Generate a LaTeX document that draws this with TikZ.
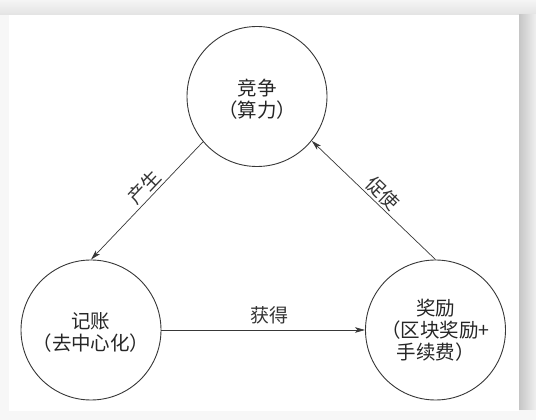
\documentclass[tikz,border=0pt]{standalone}
\usepackage{fontspec}
\newfontfamily\cjk{Noto Sans CJK SC}
\usetikzlibrary{arrows.meta}
\begin{document}
\begin{tikzpicture}[x=1pt,y=1pt,
  circ/.style={circle, draw=black!78, line width=0.9pt, minimum size=140pt, inner sep=0pt},
  txt/.style={font=\cjk\fontsize{19.5}{22}\selectfont, align=center, text=black!85, inner sep=0pt},
  conn/.style={draw=black!78, line width=0.7pt, -{Stealth[length=10pt,width=5.5pt,inset=2.5pt]}},
  elabel/.style={font=\cjk\fontsize{19}{22}\selectfont, text=black!80}]
\useasboundingbox (0,0) rectangle (536,420);
% background and frame shadow
\fill[gray!6] (0,0) rectangle (536,420);
\shade[top color=gray!8, bottom color=gray!22] (0,405) rectangle (536,420);
\shade[left color=gray!45, right color=gray!12] (519,10) rectangle (536,405);
\fill[white] (9,9) rectangle (519,405);
% circles
\node[circ] (T) at (257,323.5) {};
\node[circ] (L) at (91,90) {};
\node[circ] (R) at (435.5,90) {};
% circle texts
\node[txt] (Tt) at (257,321) {竞争\\（算力）};
\node[txt] (Lt) at (91,88) {记账\\（去中心化）};
\node[txt] (Rt) at (435.5,90) {奖励\\（区块奖励+\\手续费）};
% connectors
\draw[conn] (T.220) -- (L.north)
  node[elabel, pos=0.45, sloped, above, inner sep=2pt] (lab1) {产生};
\draw[conn] (R.north) -- (T.321)
  node[elabel, pos=0.49, sloped, above, inner sep=2.5pt] (lab2) {促使};
\draw[conn] (L.east) -- (R.west)
  node[elabel, pos=0.53, above=4pt, inner sep=2pt] (lab3) {获得};
\end{tikzpicture}
\end{document}
